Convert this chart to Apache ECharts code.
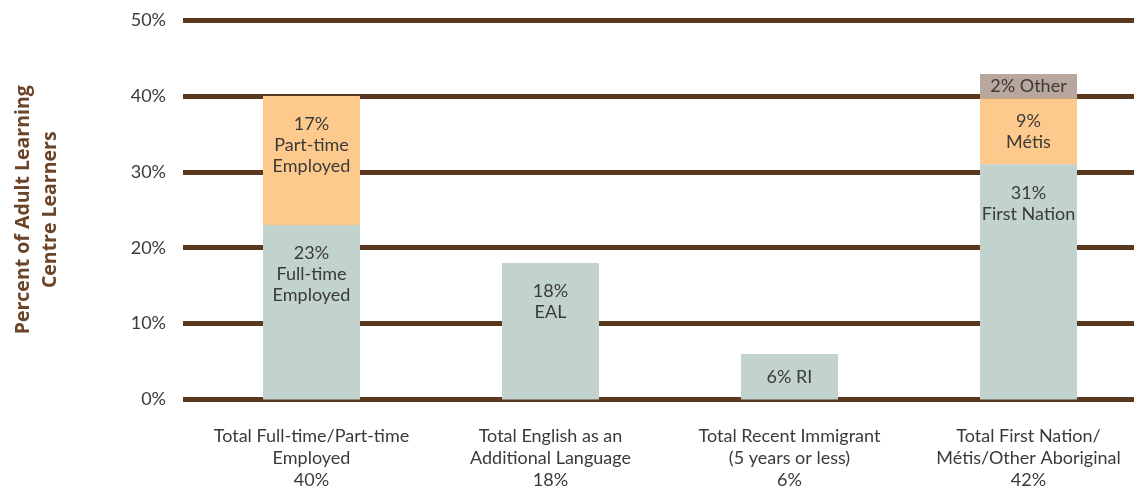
<!DOCTYPE html>
<html>
<head>
<meta charset="utf-8">
<script src="https://cdn.jsdelivr.net/npm/echarts@6/dist/echarts.min.js"></script>
<style>
  html, body { margin: 0; padding: 0; background: #fff; }
  #main { width: 1134px; height: 489px; }
</style>
</head>
<body>
<div id="main"></div>
<script>
const categories = [
  'Total Full-time/Part-time\nEmployed\n40%',
  'Total English as an\nAdditional Language\n18%',
  'Total Recent Immigrant\n(5 years or less)\n6%',
  'Total First Nation/\nMétis/Other Aboriginal\n42%'
]
const yTicks = [0, 10, 20, 30, 40, 50]

// stacked pieces, bottom to top (bar heights as drawn)
const baseValues = [23, 18, 6, 31]
const midValues = [17, null, null, 8.7]
const topValues = [null, null, null, 3.2]

const baseLabels = ['23%\nFull-time\nEmployed', '18%\nEAL', '6% RI', '31%\nFirst Nation']
const midLabels = ['17%\nPart-time\nEmployed', '', '', '9%\nMétis']
const topLabels = ['', '', '', '2% Other']

const textColor = '#3a3a3a'
const labelFont = 'Lato, "Liberation Sans Narrow", sans-serif'

function items(values, labels, pos) {
  return values.map((v, i) => ({
    value: v,
    label: {
      formatter: labels[i],
      position: pos[i]
    }
  }))
}

const barLabel = {
  show: true,
  color: textColor,
  fontFamily: labelFont,
  fontSize: 18,
  lineHeight: 21,
  distance: 18
}

const option = {
  animation: false,
  grid: [
    { left: 183, right: 0, top: 20, bottom: 89.5, outerBoundsMode: 'none' },
    { left: 192, width: 956, top: 20, bottom: 89.5, outerBoundsMode: 'none' }
  ],
  xAxis: [
    { type: 'value', gridIndex: 0, show: false, min: 0, max: 1 },
    {
      type: 'category',
      gridIndex: 1,
      data: categories,
      axisLine: { show: false },
      axisTick: { show: false },
      axisLabel: {
        color: textColor,
        fontFamily: labelFont,
        fontSize: 18,
        lineHeight: 22,
        margin: 26,
        interval: 0
      }
    }
  ],
  yAxis: [
    {
      type: 'value',
      gridIndex: 0,
      min: 0,
      max: 50,
      interval: 10,
      axisLine: { show: false },
      axisTick: { show: false },
      splitLine: { lineStyle: { color: '#5a3820', width: 5 } },
      axisLabel: {
        formatter: v => yTicks.includes(v) ? v + '%' : '',
        color: textColor,
        fontFamily: labelFont,
        fontSize: 18,
        margin: 17
      },
      name: 'Percent of Adult Learning\nCentre Learners',
      nameLocation: 'middle',
      nameRotate: 90,
      nameGap: 119,
      nameTextStyle: {
        color: '#6b4428',
        fontFamily: '"Open Sans", sans-serif',
        fontWeight: 'bold',
        fontSize: 19.5,
        lineHeight: 27
      }
    },
    { type: 'value', gridIndex: 1, min: 0, max: 50, show: false }
  ],
  series: [
    {
      name: 'base',
      type: 'bar',
      stack: 'total',
      xAxisIndex: 1,
      yAxisIndex: 1,
      barWidth: 97,
      itemStyle: { color: '#c2d2cc' },
      label: barLabel,
      data: items(baseValues, baseLabels, ['insideTop', 'insideTop', 'inside', 'insideTop'])
    },
    {
      name: 'mid',
      type: 'bar',
      stack: 'total',
      xAxisIndex: 1,
      yAxisIndex: 1,
      barWidth: 97,
      itemStyle: { color: '#fec98c' },
      label: barLabel,
      data: items(midValues, midLabels, ['insideTop', 'inside', 'inside', 'inside'])
    },
    {
      name: 'top',
      type: 'bar',
      stack: 'total',
      xAxisIndex: 1,
      yAxisIndex: 1,
      barWidth: 97,
      itemStyle: { color: '#b9a69c' },
      label: barLabel,
      data: items(topValues, topLabels, ['inside', 'inside', 'inside', 'inside'])
    }
  ]
}

const chart = echarts.init(document.getElementById('main'))
chart.setOption(option)
</script>
</body>
</html>
